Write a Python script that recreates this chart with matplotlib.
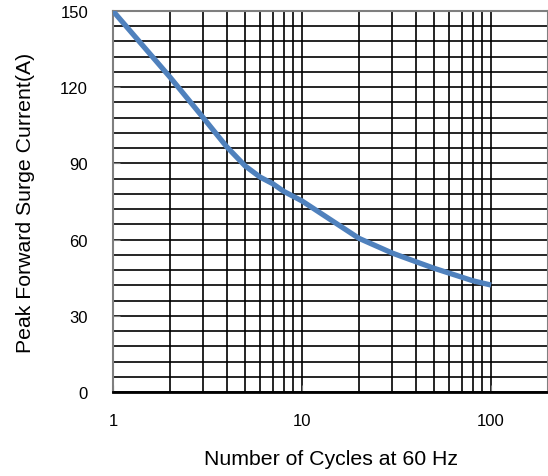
import matplotlib
matplotlib.use("Agg")
import matplotlib.pyplot as plt
from matplotlib.ticker import FixedLocator, MultipleLocator, NullFormatter

plt.rcParams['font.family'] = ['Liberation Sans', 'DejaVu Sans']

cycles = [1, 2, 3, 4, 5, 6, 7, 8, 9, 10, 20, 30, 40, 50, 60, 70, 80, 90, 100]
current = [150, 124, 108, 96.5, 89, 84.6, 82, 79, 77, 75.2, 60.5, 54.7, 51.3, 48.7, 46.8, 45.2, 43.8, 42.9, 42.1]

x_ticks = [1, 10, 100]
x_ticklabels = ["1", "10", "100"]
x_minor = [2, 3, 4, 5, 6, 7, 8, 9, 20, 30, 40, 50, 60, 70, 80, 90]
y_ticks = [0, 30, 60, 90, 120, 150]

fig = plt.figure(figsize=(5.48, 4.77), dpi=100)
ax = fig.add_axes([113/548, 1 - 393/477, 435/548, (393 - 12)/477])

ax.set_xscale('log')
ax.set_xlim(1, 200)
ax.set_ylim(0, 150)

ax.xaxis.set_major_locator(FixedLocator(x_ticks))
ax.set_xticklabels(x_ticklabels)
ax.xaxis.set_minor_locator(FixedLocator(x_minor))
ax.xaxis.set_minor_formatter(NullFormatter())
ax.yaxis.set_major_locator(FixedLocator(y_ticks))
ax.yaxis.set_minor_locator(MultipleLocator(6))

ax.grid(True, which='both', color='black', linewidth=1.2)
ax.set_axisbelow(True)

ax.plot(cycles, current, color='#4f81bd', linewidth=3.8, solid_capstyle='butt',
        solid_joinstyle='round', zorder=3)

for s in ['left', 'top', 'right']:
    ax.spines[s].set_color('#7f7f7f')
    ax.spines[s].set_linewidth(1.5)
ax.spines['bottom'].set_color('black')
ax.spines['bottom'].set_linewidth(2)

ax.tick_params(which='major', direction='in', length=5, color='#7f7f7f', labelsize=12)
ax.tick_params(axis='x', which='major', pad=15)
ax.tick_params(axis='y', which='major', pad=18)
ax.tick_params(which='minor', length=0)

ax.set_xlabel('Number of Cycles at 60 Hz', fontsize=15.3, labelpad=15)
ax.set_ylabel('Peak Forward Surge Current(A)', fontsize=15.3, labelpad=18)

fig.savefig('out.png', dpi=100)
